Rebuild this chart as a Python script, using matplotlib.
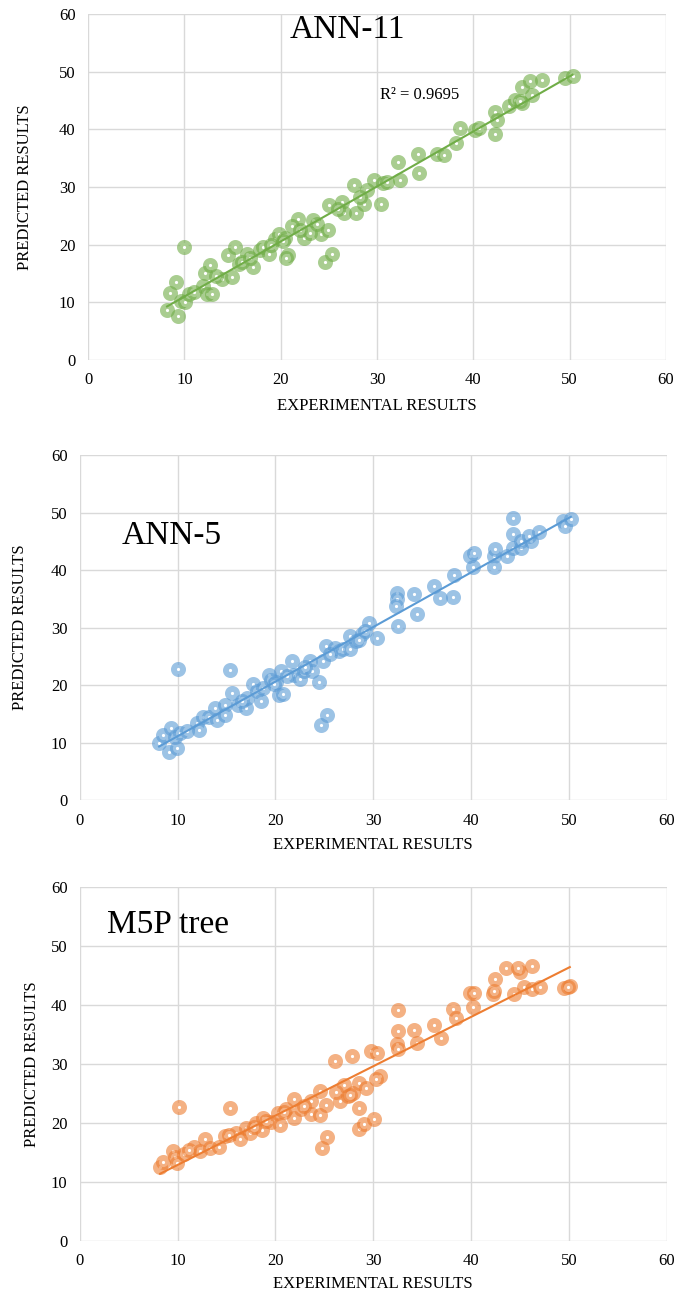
import matplotlib
matplotlib.use("Agg")
import matplotlib.pyplot as plt
import numpy as np

plt.rcParams['font.family'] = ['Liberation Serif', 'DejaVu Serif']

# ANN-11 panel: experimental vs predicted
ann11_exp = [8.2, 9.3, 8.5, 9.1, 9.6, 10.1, 10.5, 10.0, 11.9, 12.1, 12.7, 12.3, 12.9,
             13.9, 14.9, 14.5, 15.3, 15.7, 16.5, 17.1, 17.8, 18.2, 18.8, 19.4, 19.8,
             20.4, 20.8, 20.6, 21.8, 22.4, 23.4, 24.2, 25.0, 24.6, 25.3, 24.9, 26.4,
             26.6, 27.6, 27.8, 28.6, 29.0, 29.7, 30.6, 30.4, 32.2, 32.4, 34.3, 34.4,
             36.2, 37.0, 38.2, 38.6, 40.2, 40.6, 42.2, 42.3, 42.5, 43.7, 44.3, 45.1,
             45.1, 45.9, 46.1, 47.1, 49.5, 50.3, 16.0, 21.2, 23.0, 19.0, 13.3,
             11.0, 16.8, 20.2, 22.0, 23.8, 26.0, 28.2, 31.0, 44.8]
ann11_pred = [8.6, 7.6, 11.6, 13.5, 10.3, 10.0, 11.5, 19.6, 12.9, 15.0, 16.4, 11.5, 11.5,
              14.1, 14.4, 18.2, 19.6, 16.7, 18.4, 16.1, 19.0, 19.6, 18.4, 20.9, 21.9,
              21.2, 18.2, 17.7, 24.5, 21.1, 24.2, 21.9, 26.9, 17.0, 18.4, 22.5, 27.4,
              25.4, 30.3, 25.4, 27.1, 29.5, 31.2, 30.6, 27.0, 34.4, 31.2, 35.7, 32.4,
              35.7, 35.6, 37.7, 40.3, 39.9, 40.2, 39.2, 43.0, 41.6, 44.1, 45.1, 44.5,
              47.3, 48.3, 46.0, 48.6, 48.9, 49.3, 17.0, 23.2, 22.0, 20.0, 14.6,
              11.8, 17.6, 20.6, 22.6, 23.5, 26.1, 28.3, 30.9, 44.9]

# ANN-5 panel
ann5_exp = [8.1, 8.5, 9.1, 9.3, 9.9, 9.7, 10.2, 10.0, 12.0, 12.2, 12.6, 13.2, 14.0,
            13.8, 14.8, 14.8, 15.4, 15.6, 16.2, 17.0, 17.1, 17.7, 18.1, 18.5, 18.7,
            19.3, 19.5, 20.1, 20.4, 20.8, 20.6, 21.7, 21.9, 22.5, 22.9, 23.5, 23.7,
            24.5, 24.7, 25.3, 24.9, 25.2, 26.1, 26.5, 26.9, 27.6, 27.6, 28.2, 28.8,
            29.6, 30.4, 32.4, 32.4, 32.3, 32.5, 34.2, 34.5, 36.2, 36.8, 38.2, 38.3,
            39.9, 40.3, 40.2, 42.3, 42.5, 42.3, 43.7, 44.3, 44.3, 44.3, 45.1, 45.1,
            46.1, 45.9, 46.9, 49.4, 49.6, 50.2,
            11.0, 16.6, 19.9, 21.2, 23.0, 25.6, 28.5, 29.2]
ann5_pred = [10.0, 11.3, 8.4, 12.5, 9.1, 10.9, 11.6, 22.8, 13.4, 12.2, 14.5, 14.5, 14.0,
             16.0, 16.6, 14.8, 22.6, 18.6, 16.6, 16.0, 17.7, 20.1, 19.0, 17.2, 19.5,
             21.8, 20.9, 20.6, 18.3, 18.4, 22.4, 24.1, 21.8, 21.1, 22.4, 24.1, 22.4,
             20.5, 13.1, 14.7, 24.1, 26.7, 26.5, 25.9, 26.2, 28.5, 26.2, 27.6, 28.8,
             30.8, 28.2, 36.0, 34.9, 33.7, 30.3, 35.9, 32.4, 37.3, 35.1, 35.3, 39.1,
             42.4, 43.0, 40.5, 42.4, 43.6, 40.5, 42.4, 49.1, 46.2, 43.9, 43.9, 45.1,
             45.1, 45.9, 46.7, 48.5, 47.7, 48.8,
             12.0, 17.2, 20.2, 21.5, 23.2, 25.4, 27.9, 29.4]

# M5P tree panel
m5p_exp = [8.2, 8.5, 9.5, 9.7, 9.9, 10.6, 10.1, 11.7, 12.3, 12.8, 13.3, 14.2, 14.8,
           15.4, 16.0, 16.4, 17.0, 17.4, 18.0, 18.7, 18.6, 19.5, 20.3, 20.5, 21.1,
           21.9, 21.9, 22.6, 23.6, 23.6, 24.6, 24.6, 24.8, 25.3, 25.2, 26.1, 26.6,
           27.0, 27.4, 27.8, 27.9, 28.5, 28.5, 28.5, 29.1, 29.3, 29.8, 30.1, 30.4,
           30.7, 30.3, 32.5, 32.5, 32.4, 32.5, 34.2, 34.5, 36.2, 36.9, 38.2, 38.5,
           39.9, 40.3, 40.2, 42.2, 42.3, 42.5, 43.6, 44.4, 45.0, 44.8, 45.4, 46.2,
           46.2, 47.1, 49.5, 50.1, 49.9,
           11.2, 15.2, 17.8, 19.0, 20.9, 22.9, 26.2, 27.6]
m5p_pred = [12.5, 13.4, 15.2, 14.3, 13.2, 14.8, 22.7, 16.0, 15.2, 17.3, 15.7, 16.0, 17.8,
            22.6, 18.3, 17.2, 19.1, 18.3, 20.0, 20.8, 18.8, 20.1, 21.7, 19.7, 22.3,
            24.0, 20.9, 22.4, 23.7, 21.6, 21.4, 25.4, 15.7, 17.6, 23.1, 30.5, 23.7,
            26.5, 24.5, 31.4, 25.1, 22.6, 26.7, 19.0, 19.9, 26.0, 32.2, 20.7, 31.8,
            28.0, 27.4, 39.2, 35.6, 33.4, 32.6, 35.8, 33.5, 36.6, 34.4, 39.3, 37.8,
            42.0, 42.1, 39.6, 41.8, 42.4, 44.4, 46.2, 41.9, 45.6, 46.2, 43.0, 46.6,
            42.7, 43.0, 42.8, 43.2, 43.0,
            15.4, 17.9, 19.4, 20.3, 21.9, 22.8, 25.3, 24.8]

panels = [
    ("ANN-11", ann11_exp, ann11_pred, "#70AD47", [0.129, 0.7214, 0.846, 0.2678]),
    ("ANN-5", ann5_exp, ann5_pred, "#5B9BD5", [0.117, 0.3808, 0.859, 0.267]),
    ("M5P tree", m5p_exp, m5p_pred, "#ED7D31", [0.117, 0.0395, 0.859, 0.274]),
]
# label spots (axes fraction) per panel
ylab_x = [-0.109, -0.102, -0.082]
xlab_y = [-0.133, -0.130, -0.121]

fig = plt.figure(figsize=(6.83, 12.92), dpi=100)

for i, (name, xs, ys, col, pos) in enumerate(panels):
    ax = fig.add_axes(pos)
    xs = np.array(xs)
    ys = np.array(ys)
    ax.set_xlim(0, 60)
    ax.set_ylim(0, 60)
    ax.set_xticks(range(0, 61, 10))
    ax.set_yticks(range(0, 61, 10))
    ax.grid(True, color='#d9d9d9', linewidth=1.0)
    ax.set_axisbelow(True)
    for s in ax.spines.values():
        s.set_visible(False)
    ax.tick_params(length=0, labelsize=12, pad=9)

    ring = matplotlib.colors.to_rgba(col, 0.6)
    ax.scatter(xs, ys, s=6.6 ** 2, facecolors='white', edgecolors=[ring],
               linewidths=4.2, zorder=3, clip_on=False)

    # linear trendline
    k, b = np.polyfit(xs, ys, 1)
    lx = np.array([xs.min(), xs.max()])
    ax.plot(lx, k * lx + b, color=col, linewidth=1.5, zorder=4)

    ax.set_xlabel("EXPERIMENTAL RESULTS", fontsize=12)
    ax.set_ylabel("PREDICTED RESULTS", fontsize=12)
    ax.xaxis.set_label_coords(0.5, xlab_y[i])
    ax.xaxis.label.set_verticalalignment('center')
    ax.yaxis.set_label_coords(ylab_x[i], 0.5)
    ax.yaxis.label.set_verticalalignment('center')

    if i == 0:
        ax.text(26.9, 57.3, name, fontsize=24, ha='center', va='center')
        ax.text(30.3, 45.9, "R² = 0.9695", fontsize=12, ha='left', va='center')
    elif i == 1:
        ax.text(4.3, 46.0, name, fontsize=24, ha='left', va='center')
    else:
        ax.text(2.8, 53.6, name, fontsize=24, ha='left', va='center')

fig.savefig("out.png", dpi=100)
